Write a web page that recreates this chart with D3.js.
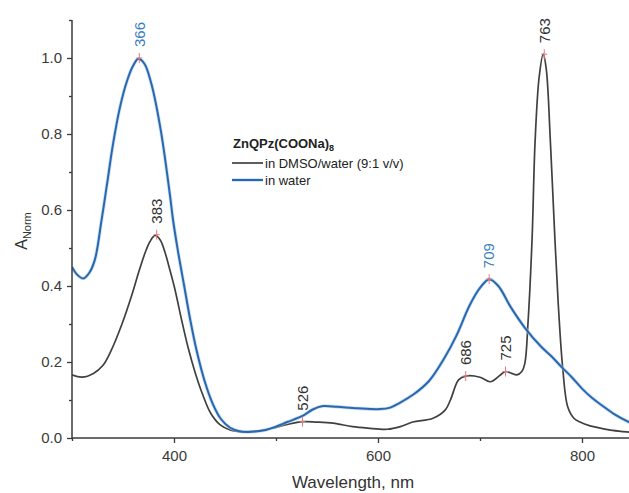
<!DOCTYPE html>
<html><head><meta charset="utf-8">
<script src="https://cdn.jsdelivr.net/npm/d3@7"></script>
<style>body{margin:0;background:#fff}svg{display:block}text{font-family:"Liberation Sans",Arial,sans-serif}</style>
</head><body>
<svg id="c" width="629" height="493"></svg>
<script>
const blueWavelengths = [300,305,311,317,322.5,329,335,340,347,354,360,365,371,378,387,396,399,404,410,416,422,430,438,446,455,464,472,480,490,500,511,526,536,546,560,580,602,612,621,635,650,665,677,690,700,709,718,730,744,760,770,781,790,800,810,820,832,846,850];
const blueValues      = [0.45,0.43,0.42,0.435,0.47,0.574,0.68,0.77,0.87,0.94,0.98,0.998,0.985,0.93,0.81,0.64,0.575,0.49,0.40,0.31,0.232,0.15,0.09,0.05,0.027,0.018,0.016,0.017,0.021,0.03,0.042,0.058,0.075,0.084,0.082,0.078,0.076,0.08,0.092,0.115,0.15,0.21,0.27,0.35,0.395,0.418,0.40,0.345,0.29,0.24,0.215,0.184,0.16,0.13,0.105,0.085,0.062,0.042,0.038];
const blackWavelengths = [300,310,321,330,338,349,358.5,365,371.5,376.5,381.5,386.5,391,396,401,407.5,414,421,428,436,445,455,468,480,495,510,526,540,556,575,590,609,622,634,654,666,671,679,686,700,710,720,725,731,736,741,744,747,751,754,758,762,765,769,773.5,777,781,786,792,798,808,818,830,844,850];
const blackValues      = [0.166,0.16,0.17,0.19,0.228,0.30,0.375,0.433,0.486,0.517,0.533,0.521,0.49,0.442,0.39,0.31,0.236,0.17,0.115,0.065,0.035,0.021,0.016,0.018,0.025,0.035,0.043,0.042,0.039,0.03,0.026,0.023,0.03,0.042,0.052,0.074,0.10,0.153,0.163,0.16,0.148,0.166,0.175,0.17,0.166,0.175,0.197,0.30,0.52,0.78,0.95,1.01,0.97,0.78,0.52,0.34,0.187,0.082,0.052,0.042,0.032,0.026,0.02,0.016,0.015];
const peakWavelengths = [366,383,526,686,709,725,763];
const peakValues      = [1.0,0.535,0.043,0.163,0.418,0.175,1.01];
const peakLabels      = ["366","383","526","686","709","725","763"];
const peakSeries      = ["water","dmso","dmso","dmso","water","dmso","dmso"];
const xTicks = [400,600,800];
const xMinorTicks = [300,500,700];
const yTicks = [0.0,0.2,0.4,0.6,0.8,1.0];
const yMinorTicks = [0.1,0.3,0.5,0.7,0.9,1.1];
const seriesNames = ["in DMSO/water (9:1 v/v)","in water"];

const svg = d3.select("#c");
const x = d3.scaleLinear().domain([300,850]).range([72,633]);
const y = d3.scaleLinear().domain([0,1.1]).range([438,20]);
const axisColor = "#3a3a3a";
const blackColor = "#404040";
const blueColor = "#2a67ad";
const blueHalo = "#a9cdee";
const blueText = "#3a7fc0";

const line = d3.line().x(d=>x(d[0])).y(d=>y(d[1])).curve(d3.curveCatmullRom.alpha(0.5));
const blackData = blackWavelengths.map((w,i)=>[w,blackValues[i]]);
const blueData = blueWavelengths.map((w,i)=>[w,blueValues[i]]);
svg.append("defs").append("clipPath").attr("id","clip").append("rect").attr("x",72).attr("y",0).attr("width",600).attr("height",438);
const g = svg.append("g").attr("clip-path","url(#clip)");
g.append("path").datum(blackData).attr("d",line).attr("fill","none").attr("stroke",blackColor).attr("stroke-width",1.7);
g.append("path").datum(blueData).attr("d",line).attr("fill","none").attr("stroke",blueHalo).attr("stroke-width",3.6).attr("opacity",0.6);
g.append("path").datum(blueData).attr("d",line).attr("fill","none").attr("stroke",blueColor).attr("stroke-width",2);

const xAxis = svg.append("g").attr("transform","translate(0,438)")
  .call(d3.axisBottom(x).tickValues(xTicks).tickFormat(d3.format("d")).tickSize(5).tickPadding(7));
const xMinor = svg.append("g").attr("transform","translate(0,438)")
  .call(d3.axisBottom(x).tickValues(xMinorTicks).tickFormat("").tickSize(3));
const yAxis = svg.append("g").attr("transform","translate(72,0)")
  .call(d3.axisLeft(y).tickValues(yTicks).tickFormat(d3.format(".1f")).tickSize(5).tickPadding(5));
const yMinor = svg.append("g").attr("transform","translate(72,0)")
  .call(d3.axisLeft(y).tickValues(yMinorTicks).tickFormat("").tickSize(3));
[xAxis,xMinor,yAxis,yMinor].forEach(a=>{
  a.select(".domain").attr("stroke",axisColor).attr("stroke-width",1.5);
  a.selectAll(".tick line").attr("stroke",axisColor).attr("stroke-width",1.3);
  a.selectAll(".tick text").attr("fill","#3a3a3a").style("font-size","15px");
});
xMinor.select(".domain").remove(); yMinor.select(".domain").remove();
yAxis.select(".domain").attr("d","M0,20V438");
xAxis.select(".domain").attr("d","M72,0H633");

svg.append("text").attr("x",353).attr("y",488).attr("text-anchor","middle")
  .attr("fill","#333").style("font-size","17px").text("Wavelength, nm");
const yl = svg.append("text").attr("transform","translate(27,231) rotate(-90)").attr("text-anchor","middle")
  .attr("fill","#333").style("font-size","16px");
yl.append("tspan").text("A");
yl.append("tspan").attr("dy","4").style("font-size","11px").text("Norm");

peakWavelengths.forEach((w,i)=>{
  const px = x(w), py = y(peakValues[i]);
  svg.append("line").attr("x1",px).attr("x2",px).attr("y1",py-5).attr("y2",py+5).attr("stroke","#e77a7a").attr("stroke-width",1);
  svg.append("line").attr("x1",px-3).attr("x2",px+3).attr("y1",py).attr("y2",py).attr("stroke","#e77a7a").attr("stroke-width",1);
  svg.append("text").attr("transform",`translate(${px},${py-11}) rotate(-90)`)
    .attr("dy","0.35em").attr("text-anchor","start")
    .attr("fill", peakSeries[i]==="water" ? blueText : "#333")
    .style("font-size","15px").text(peakLabels[i]);
});

const lg = svg.append("g");
const title = lg.append("text").attr("x",233).attr("y",148).attr("fill","#222").style("font-size","13px").style("font-weight","bold");
title.append("tspan").text("ZnQPz(COONa)");
title.append("tspan").attr("dy","3").style("font-size","9px").text("8");
lg.append("line").attr("x1",232).attr("x2",263).attr("y1",163).attr("y2",163).attr("stroke",blackColor).attr("stroke-width",1.7);
lg.append("line").attr("x1",232).attr("x2",263).attr("y1",180).attr("y2",180).attr("stroke",blueHalo).attr("stroke-width",3.6).attr("opacity",0.6);
lg.append("line").attr("x1",232).attr("x2",263).attr("y1",180).attr("y2",180).attr("stroke",blueColor).attr("stroke-width",2);
lg.append("text").attr("x",265).attr("y",167.5).attr("fill","#222").style("font-size","13px").text(seriesNames[0]);
lg.append("text").attr("x",265).attr("y",184.5).attr("fill","#222").style("font-size","13px").text(seriesNames[1]);
</script>
</body></html>
